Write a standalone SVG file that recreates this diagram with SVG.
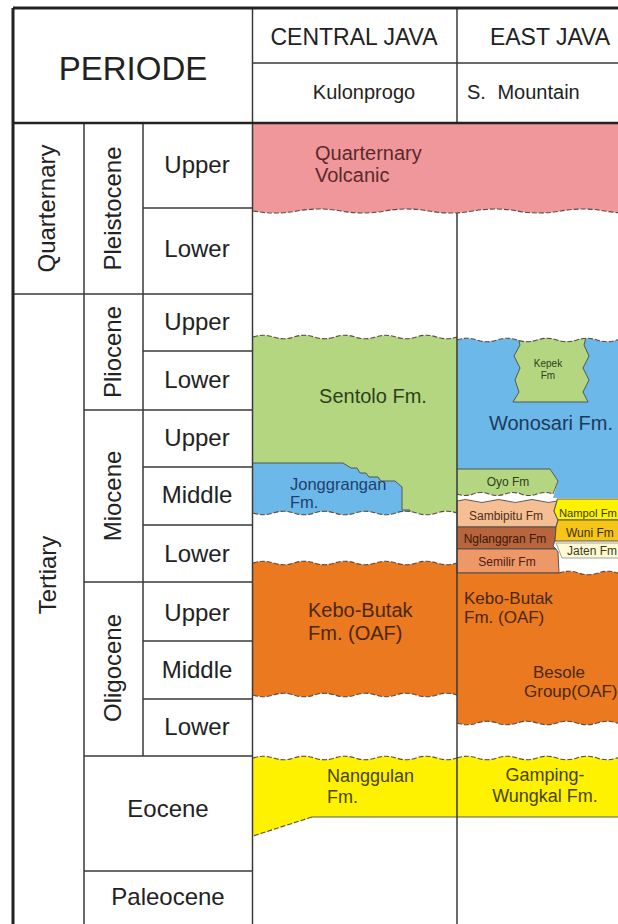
<svg xmlns="http://www.w3.org/2000/svg" width="618" height="924" viewBox="0 0 618 924">
<style>
.lbl{font-family:"Liberation Sans",Arial,sans-serif;fill:#222;font-size:24px;text-anchor:middle}
.fm{font-family:"Liberation Sans",Arial,sans-serif}
.unc{fill:none;stroke:#5a4a40;stroke-width:1.1;stroke-dasharray:5 2}
.ol{fill:none;stroke:#4a4a4a;stroke-width:0.9}
.g{stroke:#3a3a3a;stroke-width:1.5;fill:none}
.gb{stroke:#222;stroke-width:3;fill:none}
</style>
<defs>
<clipPath id="clipSentolo"><path d="M253,337 q10.2,-3.5 20.4,0 t20.4,0 t20.4,0 t20.4,0 t20.4,0 t20.4,0 t20.4,0 t20.4,0 t20.4,0 t20.4,0 V513 q-10.2,-3.5 -20.4,0 t-20.4,0 t-20.4,0 t-20.4,0 t-20.4,0 t-20.4,0 t-20.4,0 t-20.4,0 t-20.4,0 t-20.4,0 Z"/></clipPath>
<clipPath id="clipWonosari"><path d="M457,340 q10,-3.5 20,0 t20,0 t20,0 t20,0 t20,0 t20,0 t20,0 t20,0 t20,0 t20,0 V498 H553 L558,481 L550,469 H457 Z"/></clipPath>
</defs>
<rect width="618" height="924" fill="#fff"/>

<g id="quarternary-volcanic">
<path fill="#F0979B" d="M253,123 V211 q22,4 44,0 t44,0 t44,0 t44,0 t44,0 t44,0 t44,0 t44,0 t44,0 V123 Z"/>
<path class="unc" stroke="#8a4a4a" d="M253,211 q22,4 44,0 t44,0 t44,0 t44,0 t44,0 t44,0 t44,0 t44,0 t44,0"/>
<text class="fm" font-size="20" fill="#5a2a2a" x="315" y="160">Quarternary</text>
<text class="fm" font-size="20" fill="#5a2a2a" x="315" y="182">Volcanic</text>
</g>

<g id="sentolo">
<path fill="#B4D680" d="M253,337 q10.2,-3.5 20.4,0 t20.4,0 t20.4,0 t20.4,0 t20.4,0 t20.4,0 t20.4,0 t20.4,0 t20.4,0 t20.4,0 V513 q-10.2,-3.5 -20.4,0 t-20.4,0 t-20.4,0 t-20.4,0 t-20.4,0 t-20.4,0 t-20.4,0 t-20.4,0 t-20.4,0 t-20.4,0 Z"/>
<text class="fm" font-size="20" fill="#2f3f1c" x="373" y="403" text-anchor="middle">Sentolo Fm.</text>
</g>

<g id="jonggrangan" clip-path="url(#clipSentolo)">
<polygon fill="#6CB8E8" points="253,463 343,463 351,468 357,468 360,473 366,473 369,477 378,477 381,481 395,481 402,487 402,510 410,510 410,525 253,525"/>
<polyline class="ol" points="253,463 343,463 351,468 357,468 360,473 366,473 369,477 378,477 381,481 395,481 402,487 402,510 410,510 410,525"/>
<text class="fm" font-size="16.5" fill="#1e3f6f" x="290" y="490">Jonggrangan</text>
<text class="fm" font-size="16.5" fill="#1e3f6f" x="290" y="508">Fm.</text>
</g>
<g id="sentolo-bounds">
<path class="unc" d="M253,337 q10.2,-3.5 20.4,0 t20.4,0 t20.4,0 t20.4,0 t20.4,0 t20.4,0 t20.4,0 t20.4,0 t20.4,0 t20.4,0"/>
<path class="unc" d="M253,513 q10.2,3.5 20.4,0 t20.4,0 t20.4,0 t20.4,0 t20.4,0 t20.4,0 t20.4,0 t20.4,0 t20.4,0 t20.4,0"/>
</g>

<g id="kebo-butak-central">
<path fill="#EA7920" d="M253,563 q10.2,-3.5 20.4,0 t20.4,0 t20.4,0 t20.4,0 t20.4,0 t20.4,0 t20.4,0 t20.4,0 t20.4,0 t20.4,0 V695 q-10.2,-3.5 -20.4,0 t-20.4,0 t-20.4,0 t-20.4,0 t-20.4,0 t-20.4,0 t-20.4,0 t-20.4,0 t-20.4,0 t-20.4,0 Z"/>
<path class="unc" d="M253,563 q10.2,-3.5 20.4,0 t20.4,0 t20.4,0 t20.4,0 t20.4,0 t20.4,0 t20.4,0 t20.4,0 t20.4,0 t20.4,0"/>
<path class="unc" d="M253,695 q10.2,3.5 20.4,0 t20.4,0 t20.4,0 t20.4,0 t20.4,0 t20.4,0 t20.4,0 t20.4,0 t20.4,0 t20.4,0"/>
<text class="fm" font-size="20" fill="#4a2810" x="308" y="617">Kebo-Butak</text>
<text class="fm" font-size="20" fill="#4a2810" x="308" y="640">Fm. (OAF)</text>
</g>

<g id="nanggulan">
<path fill="#FFF200" d="M253,758 q10.2,-3.5 20.4,0 t20.4,0 t20.4,0 t20.4,0 t20.4,0 t20.4,0 t20.4,0 t20.4,0 t20.4,0 t20.4,0 V817 H312 L253,836 Z"/>
<path class="unc" d="M253,758 q10.2,-3.5 20.4,0 t20.4,0 t20.4,0 t20.4,0 t20.4,0 t20.4,0 t20.4,0 t20.4,0 t20.4,0 t20.4,0"/>
<path class="unc" d="M312,817 L253,836"/>
<path class="ol" stroke="#6a6a10" d="M312,817 H457"/>
<text class="fm" font-size="18" fill="#484400" x="327" y="782">Nanggulan</text>
<text class="fm" font-size="18" fill="#484400" x="327" y="803">Fm.</text>
</g>

<g id="wonosari">
<path fill="#6CB8E8" d="M457,340 q10,-3.5 20,0 t20,0 t20,0 t20,0 t20,0 t20,0 t20,0 t20,0 t20,0 t20,0 V498 H553 L558,481 L550,469 H457 Z"/>
<text class="fm" font-size="20" fill="#1c3a5c" x="551" y="430" text-anchor="middle">Wonosari Fm.</text>
</g>
<g id="kepek" clip-path="url(#clipWonosari)">
<polygon class="ol" style="fill:#B4D680" points="516,330 520,345 514,356 520,368 515,380 519,392 513,402 588,402 583,392 589,380 583,368 589,356 584,345 588,330"/>
<text class="fm" font-size="10" fill="#2f3f1c" x="548" y="367" text-anchor="middle">Kepek</text>
<text class="fm" font-size="10" fill="#2f3f1c" x="548" y="379" text-anchor="middle">Fm</text>
</g>
<path class="unc" d="M457,340 q10,-3.5 20,0 t20,0 t20,0 t20,0 t20,0 t20,0 t20,0 t20,0 t20,0 t20,0"/>

<g id="oyo">
<path fill="#B4D680" d="M457,469 H550 L558,481 L553,494 q-8,-3 -16,0 t-16,0 t-16,0 t-16,0 t-16,0 t-16,0 Z"/>
<path class="ol" d="M457,469 H550 L558,481 L553,494"/>
<path class="unc" d="M457,494 q8,3 16,0 t16,0 t16,0 t16,0 t16,0 t16,0"/>
<text class="fm" font-size="12" fill="#2f3f1c" x="508" y="486" text-anchor="middle">Oyo Fm</text>
</g>

<g id="sambipitu">
<path class="ol" style="fill:#F6BE93" d="M457,501 q8.33,-3 16.67,0 t16.67,0 t16.67,0 t16.67,0 t16.67,0 t16.67,0 L554,511 L558,520 L556,527 H457 Z"/>
<text class="fm" font-size="12" fill="#4a3020" x="506" y="520" text-anchor="middle">Sambipitu Fm</text>
</g>
<g id="nglanggran">
<path class="ol" style="fill:#B8643C" d="M457,527 H556 L555,541 L553,546 L556,549 H457 Z"/>
<text class="fm" font-size="12" fill="#3a1a0a" x="505" y="543" text-anchor="middle">Nglanggran Fm</text>
</g>
<g id="semilir">
<path class="ol" style="fill:#EE9767" d="M457,549 H556 L558,552 L559,573 H457 Z"/>
<text class="fm" font-size="12" fill="#4a2010" x="507" y="566" text-anchor="middle">Semilir Fm</text>
</g>
<g id="nampol">
<path class="ol" style="fill:#FFF200" d="M557,499 H657 V520 H558 L554,511 L557,501 Z"/>
<text class="fm" font-size="11.2" fill="#3a3a00" x="559" y="517">Nampol Fm</text>
</g>
<g id="wuni">
<path class="ol" style="fill:#F5C518" d="M558,520 H657 V541 H555 L556,527 Z"/>
<text class="fm" font-size="12" fill="#3a3000" x="566" y="537">Wuni Fm</text>
</g>
<g id="jaten">
<path class="ol" style="fill:#FFFAD2;stroke:#999" d="M556,543 H657 V558 H562 Z"/>
<text class="fm" font-size="12" fill="#3a3a20" x="567" y="555">Jaten Fm</text>
</g>

<g id="kebo-butak-east">
<path fill="#EA7920" d="M457,573 H559 q9.8,-3.5 19.6,0 t19.6,0 t19.6,0 t19.6,0 t19.6,0 V723 q-10,-3.5 -20,0 t-20,0 t-20,0 t-20,0 t-20,0 t-20,0 t-20,0 t-20,0 t-20,0 t-20,0 Z"/>
<path class="ol" d="M457,573 H559"/>
<path class="unc" d="M559,573 q9.8,-3.5 19.6,0 t19.6,0 t19.6,0 t19.6,0 t19.6,0"/>
<path class="unc" d="M457,723 q10,3.5 20,0 t20,0 t20,0 t20,0 t20,0 t20,0 t20,0 t20,0 t20,0 t20,0"/>
<text class="fm" font-size="17" fill="#4a2810" x="464" y="604">Kebo-Butak</text>
<text class="fm" font-size="17" fill="#4a2810" x="464" y="623">Fm. (OAF)</text>
<text class="fm" font-size="17" fill="#4a2810" x="533" y="678">Besole</text>
<text class="fm" font-size="17" fill="#4a2810" x="524" y="697">Group(OAF)</text>
</g>

<g id="gamping-wungkal">
<path fill="#FFF200" d="M457,758 q10,-3.5 20,0 t20,0 t20,0 t20,0 t20,0 t20,0 t20,0 t20,0 t20,0 t20,0 V817 H457 Z"/>
<path class="unc" d="M457,758 q10,-3.5 20,0 t20,0 t20,0 t20,0 t20,0 t20,0 t20,0 t20,0 t20,0 t20,0"/>
<path class="ol" stroke="#6a6a10" d="M457,817 H657"/>
<text class="fm" font-size="18" fill="#484400" x="545" y="781" text-anchor="middle">Gamping-</text>
<text class="fm" font-size="18" fill="#484400" x="545" y="802" text-anchor="middle">Wungkal Fm.</text>
</g>

<g id="grid">
<path class="g" d="M252.5,8 V924 M457,8 V123 M457,213 V924 M253,63 H618 M84,123 V924 M143,123 V756 M13,294 H252 M143,208 H252 M143,351 H252 M84,410 H252 M143,467 H252 M143,525 H252 M84,582 H252 M143,641 H252 M143,699 H252 M84,756 H252 M84,871 H252"/>
<path class="gb" d="M13,8 H618 M13,8 V924"/>
<path stroke="#222" stroke-width="2.5" d="M13,123 H618"/>
</g>

<g id="header">
<text class="fm" font-size="33" fill="#222" x="133" y="80" text-anchor="middle">PERIODE</text>
<text class="fm" font-size="23" fill="#222" x="354" y="45" text-anchor="middle">CENTRAL JAVA</text>
<text class="fm" font-size="20" fill="#222" x="364" y="99" text-anchor="middle">Kulonprogo</text>
<text class="fm" font-size="23" fill="#222" x="550" y="45" text-anchor="middle">EAST JAVA</text>
<text class="fm" font-size="20" fill="#222" x="467" y="99" word-spacing="6">S. Mountain</text>
</g>

<g id="periods">
<text class="lbl" transform="translate(55,208.5) rotate(-90)">Quarternary</text>
<text class="lbl" transform="translate(56,575) rotate(-90)">Tertiary</text>
<text class="lbl" transform="translate(121,208.5) rotate(-90)">Pleistocene</text>
<text class="lbl" transform="translate(121,352) rotate(-90)">Pliocene</text>
<text class="lbl" transform="translate(121,496) rotate(-90)">Miocene</text>
<text class="lbl" transform="translate(121,668) rotate(-90)">Oligocene</text>
<text class="lbl" x="197" y="173">Upper</text>
<text class="lbl" x="197" y="257">Lower</text>
<text class="lbl" x="197" y="330">Upper</text>
<text class="lbl" x="197" y="388">Lower</text>
<text class="lbl" x="197" y="446">Upper</text>
<text class="lbl" x="197" y="503">Middle</text>
<text class="lbl" x="197" y="562">Lower</text>
<text class="lbl" x="197" y="621">Upper</text>
<text class="lbl" x="197" y="678">Middle</text>
<text class="lbl" x="197" y="735">Lower</text>
<text class="lbl" x="168" y="817">Eocene</text>
<text class="lbl" x="168" y="905">Paleocene</text>
</g>
</svg>
